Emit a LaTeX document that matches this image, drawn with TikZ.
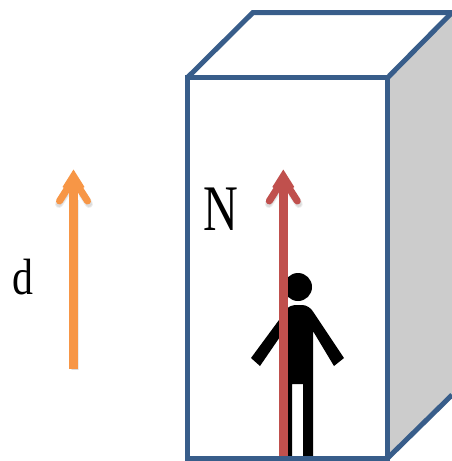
\documentclass[tikz,border=0pt]{standalone}
\usepackage{graphicx}
\usepackage{fontspec}
\setmainfont{Liberation Serif}
\definecolor{boxblue}{RGB}{56,93,138}
\definecolor{sidegray}{RGB}{204,204,204}
\definecolor{redarrow}{RGB}{192,80,77}
\definecolor{orangearrow}{RGB}{247,150,70}
\tikzset{
  x=1pt,y=-1pt,
  boxline/.style={draw=boxblue,line width=5pt,line join=miter},
  shaft/.style={line width=8.5pt,line cap=butt},
  wing/.style={line width=7pt,line cap=round,line join=round},
  soft/.style={draw=black,opacity=0.07,line cap=round},
  label/.style={inner sep=0pt,text=black,anchor=base}
}
\newcommand{\upArrow}[4]{% x, tip y, bottom y, colour
  \foreach \w in {8,6}{
    \draw[soft,line width=\w pt] (#1-14.5,204) -- (#1-8,194);
    \draw[soft,line width=\w pt] (#1+15.5,204) -- (#1+9,194);
    \draw[soft,line width=\w pt,line cap=butt] (#1+1,200) -- (#1+1,#3+1);
  }
  \draw[#4,shaft] (#1,185) -- (#1,#3);
  \draw[#4,wing] (#1-14,201) -- (#1,179) -- (#1+14,201);
  \fill[#4] (#1,#2) -- (#1-11,187) -- (#1,194) -- (#1+11,187) -- cycle;
}
\begin{document}
\begin{tikzpicture}
\useasboundingbox (0,0) rectangle (452,461);
\clip (0,0) rectangle (452,461);
% side and box
\fill[sidegray] (388,78) -- (453,12) -- (453,395) -- (388,458) -- cycle;
\draw[boxline] (187.5,458) -- (187.5,77.5) -- (387.8,77.5) -- (387.8,458);
\draw[boxline] (187.5,77.5) -- (253,12.5) -- (452,12.5);
\draw[boxline] (387.8,77.5) -- (452,12.5);
\draw[boxline] (387.8,458) -- (452,395);
% person
\fill[black] (298,287) circle (14);
\fill[black] (279,320) .. controls (283,310) and (290,305) .. (295,305)
  -- (302,305) .. controls (307,305) and (311,308) .. (314,313)
  -- (344,358) -- (334,366) -- (313,331) -- (313,457) -- (303,457) -- (303,384)
  -- (292,384) -- (292,457) -- (284,457) -- (284,331) -- (260,366) -- (251,358) -- cycle;
% arrows
\upArrow{73.5}{169.5}{369}{orangearrow}
\upArrow{283.3}{169.5}{456}{redarrow}
\draw[draw=boxblue,line width=5pt] (185,458.5) -- (390.3,458.5);
% labels
\node[label] (n) at (221,230) {\scalebox{0.74}[1]{\fontsize{65}{65}\selectfont N}};
\node[label] (d) at (23,294) {\scalebox{0.82}[1]{\fontsize{51}{51}\selectfont d}};
\end{tikzpicture}
\end{document}
